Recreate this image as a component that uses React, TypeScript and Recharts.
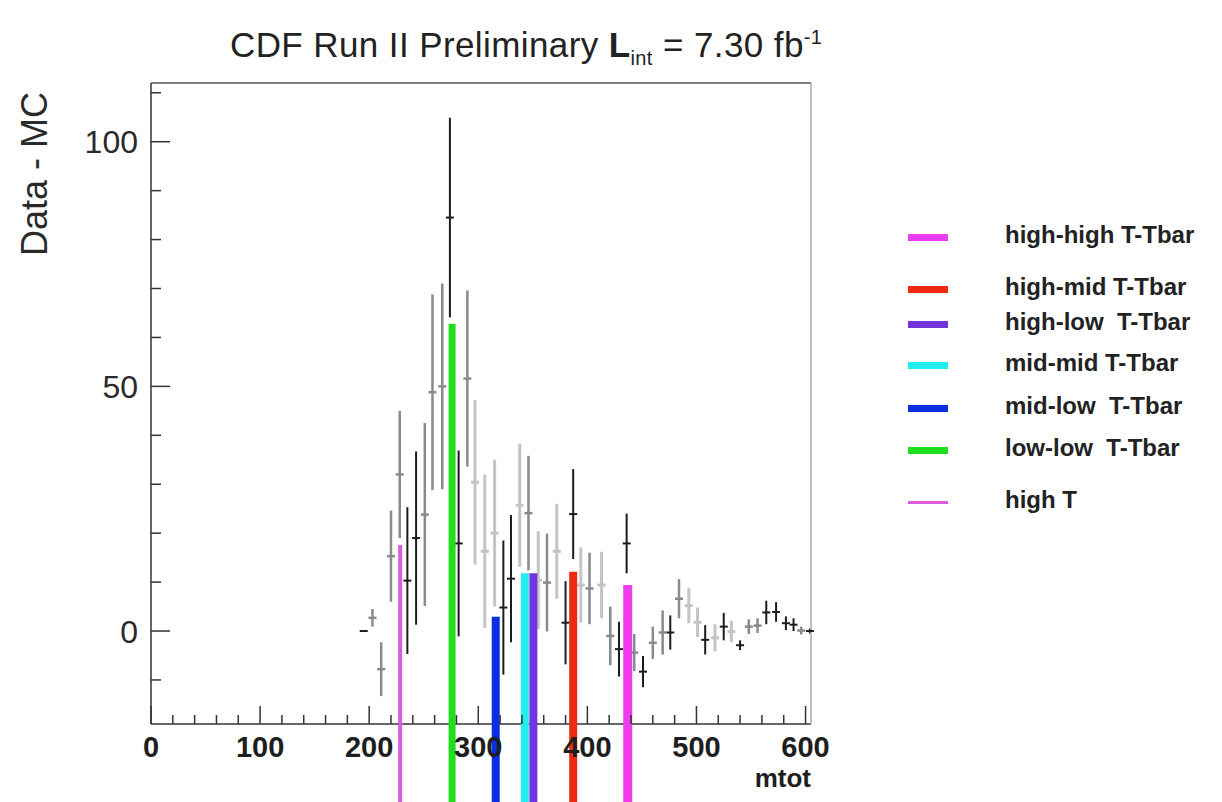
import { ComposedChart, Scatter, ErrorBar, XAxis, YAxis, ReferenceLine } from 'recharts'

// ── data ─────────────────────────────────────────────────────────────────
const binCenter = [195, 203, 211, 220, 228, 235, 243, 251, 258, 267, 274, 282, 290, 297, 306, 315, 323, 330, 338, 346, 355, 363, 372, 380, 387, 394, 402, 413, 421, 429, 436, 443, 451, 460, 469, 476, 484, 493, 501, 508, 517, 525, 532, 540, 548, 556, 564, 573, 582, 589, 596, 604]
const dataMinusMc = [0, 2.7, -7.8, 15.3, 32, 10.3, 19, 23.8, 48.8, 50, 84.5, 17.9, 51.6, 30.4, 16.3, 20, 4.8, 10.7, 25.7, 24.1, 10.4, 9.9, 16.3, 1.7, 23.9, 9.4, 8.7, 9.4, -1, -3.7, 17.9, -4.4, -8.3, -2.4, -0.3, -0.3, 6.6, 5.2, 1.8, -1.8, -1.4, 0.9, -0.1, -2.9, 0.9, 1.1, 3.8, 3.9, 1.6, 1.3, 0.1, 0]
const statError = [0, 1.8, 5.5, 9.3, 13, 15, 17.7, 18.7, 20, 21, 20.4, 19, 18, 16.8, 15.7, 15, 13.7, 13, 12.6, 11.7, 10, 10, 9.7, 8.5, 9.2, 7.7, 7.3, 6.8, 6, 5.6, 6.1, 3.8, 3.2, 3.3, 4.5, 3.5, 4, 3.6, 3, 3, 2.8, 2.8, 2.2, 1, 1.5, 1.5, 2.4, 2, 1.4, 1.3, 0.8, 0.5]
// k = black, g = grey, l = light grey
const pointShade = ['k', 'g', 'g', 'g', 'g', 'k', 'k', 'g', 'g', 'g', 'k', 'k', 'g', 'l', 'l', 'l', 'k', 'k', 'l', 'g', 'l', 'g', 'l', 'k', 'k', 'l', 'g', 'l', 'g', 'k', 'k', 'g', 'k', 'g', 'g', 'k', 'g', 'l', 'l', 'k', 'l', 'k', 'l', 'k', 'g', 'g', 'k', 'k', 'k', 'k', 'g', 'k']

const signalNames = ['high-high T-Tbar', 'high-mid T-Tbar', 'high-low  T-Tbar', 'mid-mid T-Tbar', 'mid-low  T-Tbar', 'low-low  T-Tbar', 'high T']
const signalMass = [437, 387, 350.5, 342.7, 316, 276, 228.4]
const signalExcess = [9.4, 12.1, 11.8, 11.8, 2.9, 62.8, 17.6]

const xTicks = [0, 20, 40, 60, 80, 100, 120, 140, 160, 180, 200, 220, 240, 260, 280, 300, 320, 340, 360, 380, 400, 420, 440, 460, 480, 500, 520, 540, 560, 580, 600]
const yTicks = [-10, 0, 10, 20, 30, 40, 50, 60, 70, 80, 90, 100, 110]

// ── styles ───────────────────────────────────────────────────────────────
const FONT = '"Liberation Sans", Arial, Helvetica, sans-serif'
const SIGNAL_COLORS = ['#ee3cee', '#f02a10', '#7436dc', '#22eeee', '#0a2ee0', '#1ede1e', '#dc5cdc']
const SIGNAL_WIDTHS = [9, 8, 8, 8, 8, 7, 4]
const LEGEND_ROWS = [237, 289, 324, 365, 408, 450, 502]
const SHADES: Record<string, { color: string; width: number }> = {
  k: { color: '#1c1c1c', width: 2 },
  g: { color: '#8a8a8a', width: 2.5 },
  l: { color: '#c4c4c4', width: 3 },
}

const points = binCenter.map((x, i) => ({ x, y: dataMinusMc[i], err: statError[i], shade: pointShade[i] }))

function BottomTick({ x, y, payload }: any) {
  const major = payload.value % 100 === 0
  return (
    <g>
      <line x1={x} x2={x} y1={y} y2={y - (major ? 18 : 9)} stroke="#333" strokeWidth={1.5} />
      {major && (
        <text x={x} y={y + 33} textAnchor="middle" fontSize={29} fontWeight="bold" fill="#1e1e1e" fontFamily={FONT}>
          {payload.value}
        </text>
      )}
    </g>
  )
}

function TopTick({ x, y, payload }: any) {
  const major = payload.value % 100 === 0
  return <line x1={x} x2={x} y1={y} y2={y + (major ? 18 : 9)} stroke="#777" strokeWidth={1.5} />
}

function LeftTick({ x, y, payload }: any) {
  const major = payload.value % 50 === 0
  return (
    <g>
      <line x1={x} x2={x + (major ? 19 : 10)} y1={y} y2={y} stroke="#333" strokeWidth={1.5} />
      {major && (
        <text x={x - 13} y={y} dy="0.36em" textAnchor="end" fontSize={32} fill="#2a2a2a" fontFamily={FONT}>
          {payload.value}
        </text>
      )}
    </g>
  )
}

function RightTick({ x, y, payload }: any) {
  const major = payload.value % 50 === 0
  return <line x1={x} x2={x - (major ? 19 : 10)} y1={y} y2={y} stroke="#999" strokeWidth={1.5} />
}

function PointShape(color: string, width: number) {
  return (props: any) => (
    <line x1={props.cx - 4} x2={props.cx + 4} y1={props.cy} y2={props.cy} stroke={color} strokeWidth={width} />
  )
}

export default function App() {
  return (
    <div style={{ position: 'absolute', left: 0, top: 0, width: 1222, height: 802, background: '#fff', fontFamily: FONT }}>
      <ComposedChart width={1222} height={802} margin={{ top: 0, right: 0, bottom: 0, left: 0 }}>
        <XAxis
          xAxisId="b"
          type="number"
          dataKey="x"
          domain={[0, 605]}
          ticks={xTicks}
          interval={0}
          height={78}
          tickSize={0}
          tickMargin={0}
          tick={<BottomTick />}
          axisLine={{ stroke: '#333', strokeWidth: 1.5 }}
          label={{
            content: () => (
              <text x={811} y={787} textAnchor="end" fontSize={26} fontWeight="bold" fill="#1e1e1e" fontFamily={FONT}>
                mtot
              </text>
            ),
          }}
        />
        <XAxis
          xAxisId="t"
          orientation="top"
          type="number"
          domain={[0, 605]}
          ticks={xTicks}
          interval={0}
          height={83}
          tickSize={0}
          tickMargin={0}
          tick={<TopTick />}
          axisLine={{ stroke: '#555', strokeWidth: 1.5 }}
        />
        <YAxis
          yAxisId="l"
          type="number"
          domain={[-19, 112]}
          ticks={yTicks}
          interval={0}
          width={151}
          tickSize={0}
          tickMargin={0}
          tick={<LeftTick />}
          axisLine={{ stroke: '#333', strokeWidth: 1.5 }}
          label={{
            content: () => (
              <text transform="translate(47,174) rotate(-90)" textAnchor="middle" fontSize={36} fill="#2a2a2a" fontFamily={FONT}>
                Data - MC
              </text>
            ),
          }}
        />
        <YAxis
          yAxisId="r"
          orientation="right"
          type="number"
          domain={[-19, 112]}
          ticks={yTicks}
          interval={0}
          width={411}
          tickSize={0}
          tickMargin={0}
          tick={<RightTick />}
          axisLine={{ stroke: '#aaa', strokeWidth: 1.5 }}
        />

        {Object.keys(SHADES).map(s => (
          <Scatter
            key={s}
            xAxisId="b"
            yAxisId="l"
            data={points.filter(p => p.shade === s)}
            dataKey="y"
            shape={PointShape(SHADES[s].color, SHADES[s].width)}
            isAnimationActive={false}
          >
            <ErrorBar dataKey="err" direction="y" width={0} stroke={SHADES[s].color} strokeWidth={SHADES[s].width} isAnimationActive={false} />
          </Scatter>
        ))}

        {signalMass.map((m, i) => (
          <ReferenceLine
            key={signalNames[i]}
            xAxisId="b"
            yAxisId="l"
            segment={[{ x: m, y: signalExcess[i] }, { x: m, y: -45 }]}
            stroke={SIGNAL_COLORS[i]}
            strokeWidth={SIGNAL_WIDTHS[i]}
            ifOverflow="visible"
            zIndex={900}
          />
        ))}
      </ComposedChart>

      {/* title */}
      <div style={{ position: 'absolute', left: 230, top: 17, fontSize: 35, letterSpacing: 0.4, color: '#222', whiteSpace: 'nowrap', lineHeight: '40px' }}>
        CDF Run II Preliminary <b>L</b>
        <sub style={{ fontSize: 20 }}>int</sub> = 7.30 fb<sup style={{ fontSize: 20 }}>-1</sup>
      </div>

      {/* legend */}
      {signalNames.map((name, i) => (
        <div key={name}>
          <div
            style={{
              position: 'absolute',
              left: 908,
              top: LEGEND_ROWS[i] - (i === 6 ? 1.5 : 3.5),
              width: 40,
              height: i === 6 ? 3 : 7,
              background: SIGNAL_COLORS[i],
            }}
          />
          <div
            style={{
              position: 'absolute',
              left: 1005,
              top: LEGEND_ROWS[i] - 14,
              fontSize: 24,
              fontWeight: 'bold',
              color: '#222',
              whiteSpace: 'pre',
              lineHeight: '24px',
            }}
          >
            {name}
          </div>
        </div>
      ))}
    </div>
  )
}
